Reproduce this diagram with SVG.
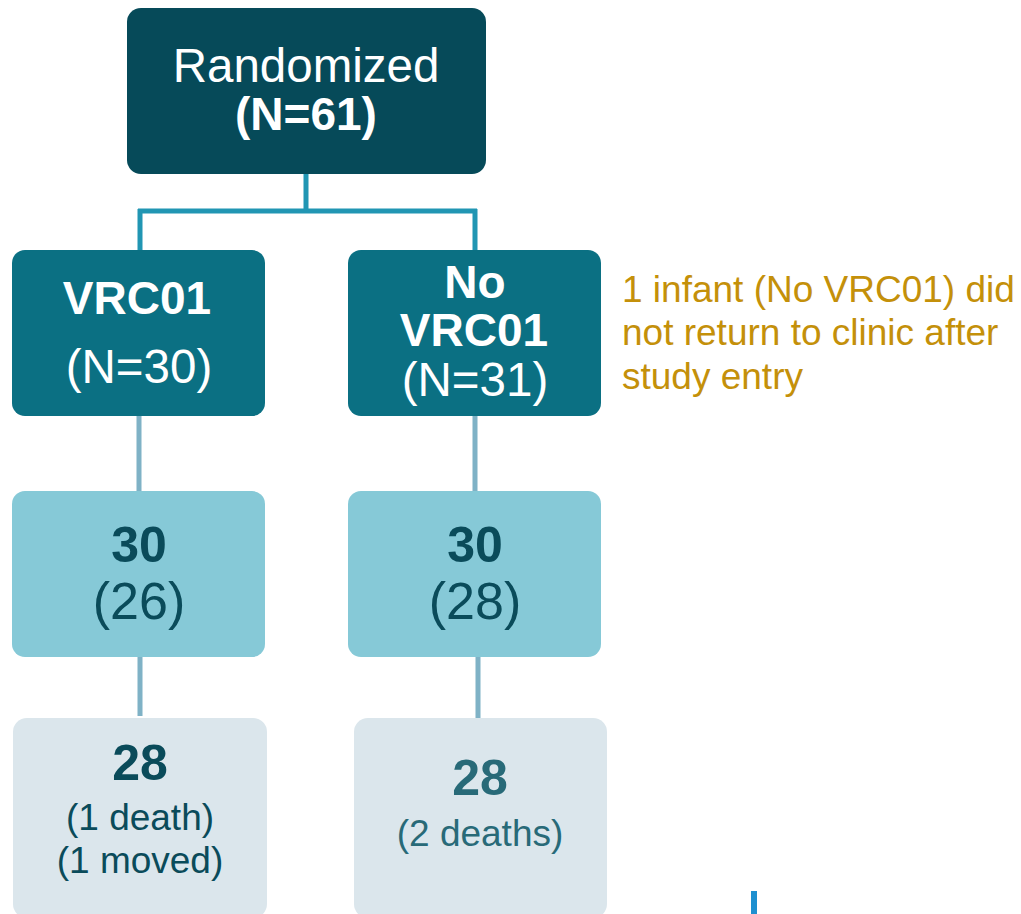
<svg xmlns="http://www.w3.org/2000/svg" width="1021" height="914" viewBox="0 0 1021 914">
  <style>
    text { font-family: "Liberation Sans", Arial, sans-serif; text-anchor: middle; }
    .b { font-weight: bold; }
    .top { fill: #064A59; }
    .l2 { fill: #0B7083; }
    .l3 { fill: #86C9D7; }
    .l4 { fill: #DBE6EC; }
    .w { fill: #FFFFFF; }
    .dk { fill: #0A4B5A; }
    .md { fill: #286A78; }
    .note { fill: #C4900A; text-anchor: start; font-size: 37px; }
    .c1 { stroke: #2196B3; stroke-width: 5; fill: none; }
    .c2 { stroke: #7FB2C6; stroke-width: 5; fill: none; }
  </style>

  <g id="connectors">
    <path class="c1" d="M306 172 V211 M138 211 H477 M140 209 V252 M475 209 V252"/>
    <path class="c2" d="M139 414 V493 M475 414 V493"/>
    <path class="c2" d="M140 652 V716 M478 657 V720"/>
  </g>

  <g id="randomized">
    <rect class="top" x="127" y="8" width="359" height="166" rx="14"/>
    <text class="w" x="306" y="82" font-size="47.5">Randomized</text>
    <text class="w b" x="306" y="130" font-size="46">(N=61)</text>
  </g>

  <g id="vrc01">
    <rect class="l2" x="12" y="250" width="253" height="166" rx="13"/>
    <text class="w b" x="137" y="314" font-size="46">VRC01</text>
    <text class="w" x="139" y="383" font-size="47.5">(N=30)</text>
  </g>

  <g id="no-vrc01">
    <rect class="l2" x="348" y="250" width="253" height="166" rx="13"/>
    <text class="w b" x="475" y="298" font-size="46">No</text>
    <text class="w b" x="474" y="346" font-size="46">VRC01</text>
    <text class="w" x="475" y="396" font-size="47.5">(N=31)</text>
  </g>

  <g id="note">
    <text class="note" x="622" y="302">1 infant (No VRC01) did</text>
    <text class="note" x="622" y="345">not return to clinic after</text>
    <text class="note" x="622" y="389">study entry</text>
  </g>

  <g id="vrc01-mid">
    <rect class="l3" x="12" y="491" width="253" height="166" rx="13"/>
    <text class="dk b" x="139" y="562" font-size="50">30</text>
    <text class="dk" x="139" y="619" font-size="52">(26)</text>
  </g>

  <g id="no-vrc01-mid">
    <rect class="l3" x="348" y="491" width="253" height="166" rx="13"/>
    <text class="dk b" x="475" y="562" font-size="50">30</text>
    <text class="dk" x="475" y="619" font-size="52">(28)</text>
  </g>

  <g id="vrc01-final">
    <rect class="l4" x="13" y="718" width="254" height="200" rx="14"/>
    <text class="dk b" x="140" y="780" font-size="50">28</text>
    <text class="dk" x="140" y="830" font-size="37">(1 death)</text>
    <text class="dk" x="140" y="873" font-size="37">(1 moved)</text>
  </g>

  <g id="no-vrc01-final">
    <rect class="l4" x="354" y="718" width="253" height="200" rx="14"/>
    <text class="md b" x="480" y="795" font-size="50">28</text>
    <text class="md" x="480" y="846" font-size="37">(2 deaths)</text>
  </g>

  <rect id="mark" x="751" y="891" width="6" height="23" fill="#1E90D0"/>
</svg>
